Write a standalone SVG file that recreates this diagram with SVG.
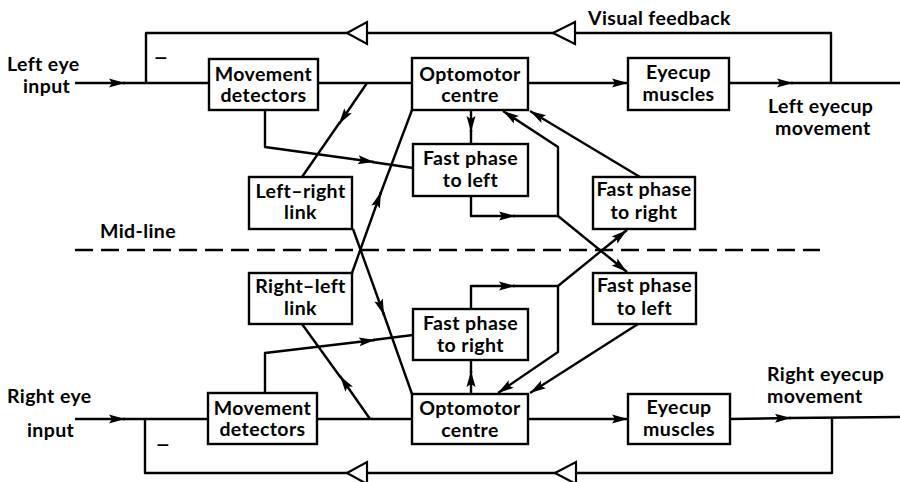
<svg xmlns="http://www.w3.org/2000/svg" width="900" height="482" viewBox="0 0 900 482">
<style>
  .box { fill: #fff; stroke: #000; stroke-width: 2.4; }
  .ln { fill: none; stroke: #000; stroke-width: 2.4; stroke-linejoin: round; }
  .ar { marker-end: url(#ah); }
  .tri { fill: #fff; stroke: #000; stroke-width: 2.2; stroke-linejoin: miter; }
  .mid { fill: none; stroke: #000; stroke-width: 2.4; stroke-dasharray: 18 8; }
  text { font-family: Lato, "Open Sans", "DejaVu Sans", sans-serif; font-weight: bold; font-size: 19.5px; fill: #000; letter-spacing: 0.4px; }
  .c { text-anchor: middle; }
  .minus { font-size: 27px; font-weight: normal; }
</style>
<defs>
  <marker id="ah" markerUnits="userSpaceOnUse" markerWidth="17" markerHeight="11" viewBox="0 0 17 11" refX="16" refY="5.5" orient="auto">
    <path d="M0,1 L16,5.5 L0,10 L3,5.5 z" fill="#000"/>
  </marker>
</defs>

<g id="connectors">
  <!-- top main line -->
  <path class="ln ar" d="M75,83 L125,83"/>
  <path class="ln" d="M123,83 L209,83"/>
  <path class="ln" d="M318,83 L412,83"/>
  <path class="ln ar" d="M528,83 L628,83"/>
  <path class="ln ar" d="M729,83 L793,83"/>
  <path class="ln" d="M791,83 L900,83"/>
  <!-- top feedback -->
  <path class="ln" d="M831,83 L831,33 L146,33 L146,83"/>
  <polygon class="tri" points="553,33 575,22 575,44"/>
  <polygon class="tri" points="347,33 367,22 367,44"/>
  <!-- to left-right link -->
  <path class="ln ar" d="M367,83 L339,124"/>
  <path class="ln" d="M340,122 L302,177"/>
  <!-- MD top -> FP left -->
  <path class="ln ar" d="M265,110 L265,147 L374,162"/>
  <path class="ln" d="M372,162 L413,168"/>
  <!-- Optomotor -> FP left -->
  <path class="ln ar" d="M471,110 L471,132"/>
  <path class="ln" d="M471,130 L471,144"/>
  <!-- FP left -> junction -->
  <path class="ln ar" d="M471,196 L471,216 L515,216"/>
  <path class="ln" d="M513,216 L558,216"/>
  <path class="ln ar" d="M558,216 L558,147 L503,111"/>
  <path class="ln ar" d="M558,216 L627,272"/>
  <!-- FP right upper -> optomotor -->
  <path class="ln ar" d="M640,177 L530,111"/>
  <!-- crossing links -->
  <path class="ln ar" d="M353,229 L384,315"/>
  <path class="ln" d="M383,312 L412,394"/>
  <path class="ln ar" d="M352,273 L381,192"/>
  <path class="ln" d="M380,195 L412,110"/>

  <!-- bottom main line -->
  <path class="ln ar" d="M75,419 L125,419"/>
  <path class="ln" d="M123,419 L208,419"/>
  <path class="ln" d="M317,419 L412,419"/>
  <path class="ln ar" d="M528,419 L628,419"/>
  <path class="ln ar" d="M730,419 L791,418"/>
  <path class="ln" d="M789,418 L900,417"/>
  <!-- bottom feedback -->
  <path class="ln" d="M832,418 L832,473 L145,473 L145,419"/>
  <polygon class="tri" points="555,473 576,462 576,484"/>
  <polygon class="tri" points="347,473 367,462 367,484"/>
  <!-- to right-left link -->
  <path class="ln ar" d="M370,419 L340,376"/>
  <path class="ln" d="M341,378 L302,324"/>
  <!-- MD bottom -> FP right -->
  <path class="ln ar" d="M265,393 L265,353 L375,340"/>
  <path class="ln" d="M373,340 L413,335"/>
  <!-- Optomotor -> FP right -->
  <path class="ln ar" d="M471,394 L471,371"/>
  <path class="ln" d="M471,373 L471,360"/>
  <!-- FP right -> junction -->
  <path class="ln ar" d="M471,309 L471,286 L515,286"/>
  <path class="ln" d="M513,286 L558,286"/>
  <path class="ln ar" d="M558,286 L627,230"/>
  <path class="ln ar" d="M558,286 L558,352 L498,393"/>
  <!-- FP left lower -> optomotor -->
  <path class="ln ar" d="M638,324 L530,393"/>
  <!-- mid-line -->
  <path class="mid" d="M75,250 L820,250"/>
</g>

<g id="md-top"><rect class="box" x="209" y="59" width="109" height="51"/><text class="c" x="263.5" y="81">Movement</text><text class="c" x="263.5" y="102">detectors</text></g>
<g id="opt-top"><rect class="box" x="412" y="58" width="116" height="52"/><text class="c" x="470" y="81">Optomotor</text><text class="c" x="470" y="102">centre</text></g>
<g id="eye-top"><rect class="box" x="628" y="58" width="101" height="52"/><text class="c" x="678.5" y="79">Eyecup</text><text class="c" x="678.5" y="101">muscles</text></g>
<g id="fpl-top"><rect class="box" x="413" y="144" width="115" height="52"/><text class="c" x="470.5" y="165">Fast phase</text><text class="c" x="470.5" y="187">to left</text></g>
<g id="lr-link"><rect class="box" x="249" y="177" width="103" height="52"/><text class="c" x="300.5" y="198">Left–right</text><text class="c" x="300.5" y="219">link</text></g>
<g id="fpr-upper"><rect class="box" x="593" y="177" width="102" height="52"/><text class="c" x="644" y="196">Fast phase</text><text class="c" x="644" y="219">to right</text></g>
<g id="rl-link"><rect class="box" x="249" y="273" width="103" height="51"/><text class="c" x="300.5" y="293">Right–left</text><text class="c" x="300.5" y="315">link</text></g>
<g id="fpl-lower"><rect class="box" x="593" y="273" width="103" height="51"/><text class="c" x="644.5" y="292">Fast phase</text><text class="c" x="644.5" y="315">to left</text></g>
<g id="fpr-bottom"><rect class="box" x="413" y="309" width="115" height="51"/><text class="c" x="470.5" y="330">Fast phase</text><text class="c" x="470.5" y="352">to right</text></g>
<g id="md-bottom"><rect class="box" x="208" y="393" width="109" height="51"/><text class="c" x="262.5" y="415">Movement</text><text class="c" x="262.5" y="436">detectors</text></g>
<g id="opt-bottom"><rect class="box" x="412" y="394" width="116" height="50"/><text class="c" x="470" y="415">Optomotor</text><text class="c" x="470" y="437">centre</text></g>
<g id="eye-bottom"><rect class="box" x="628" y="394" width="102" height="50"/><text class="c" x="679" y="414">Eyecup</text><text class="c" x="679" y="436">muscles</text></g>

<g id="labels">
  <text x="588" y="25">Visual feedback</text>
  <text x="7" y="71">Left eye</text>
  <text x="23" y="93">input</text>
  <text x="768" y="113">Left eyecup</text>
  <text x="775" y="135">movement</text>
  <text x="100" y="238">Mid-line</text>
  <text x="7" y="403">Right eye</text>
  <text x="27" y="437">input</text>
  <text x="767" y="381">Right eyecup</text>
  <text x="767" y="403">movement</text>
  <text class="minus" x="153" y="66">–</text>
  <text class="minus" x="155" y="453">–</text>
</g>
</svg>
